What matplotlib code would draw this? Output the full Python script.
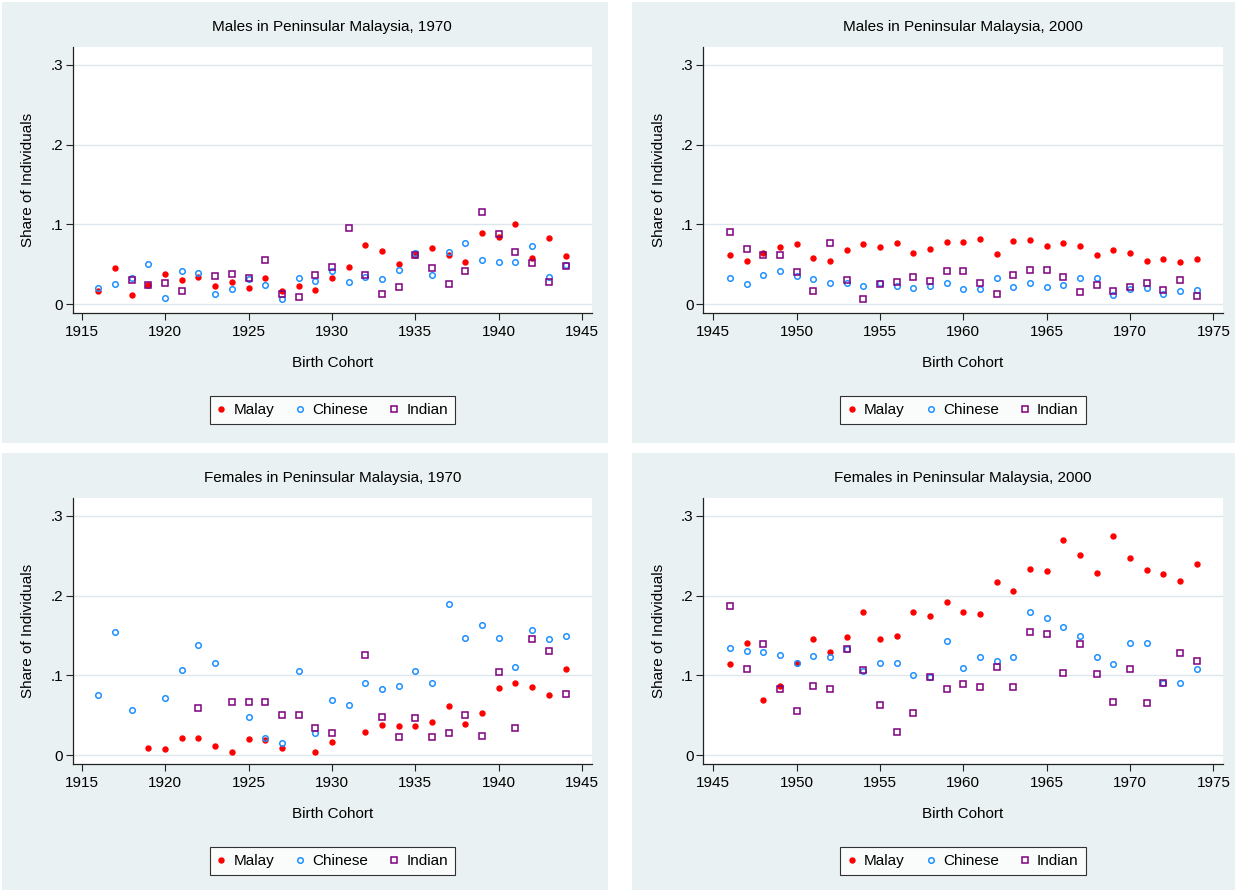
import numpy as np
import matplotlib
matplotlib.use('Agg')
import matplotlib.pyplot as plt
from matplotlib.patches import Rectangle
from matplotlib.lines import Line2D

plt.rcParams['font.family'] = ['Liberation Sans', 'DejaVu Sans']

nan = np.nan

# birth cohorts
cohort_1970 = list(range(1916, 1945))
cohort_2000 = list(range(1946, 1975))

# Males, 1970 census
male70_malay = [.016, .045, .011, .024, .038, .030, .034, .023, .028, .020, .033, .016, .023, .018, .033,
                .047, .074, .066, .050, .062, .070, .062, .0525, .089, .084, .100, .058, .083, .060]
male70_chinese = [.020, .025, .033, .050, .007, .042, .039, .013, .019, .032, .024, .006, .033, .029, .041,
                  .0275, .034, .032, .043, .064, .036, .065, .076, .055, .0525, .053, .073, .034, .049]
male70_indian = [nan, nan, .030, .024, .027, .016, nan, .035, .038, .033, .055, .013, .009, .036, .047,
                 .095, .036, .013, .022, .062, .045, .025, .041, .115, .088, .065, .052, .0275, .0475]

# Males, 2000 census
male00_malay = [.062, .054, .064, .071, .075, .058, .054, .068, .075, .071, .077, .064, .069, .0775, .078,
                .082, .0625, .079, .080, .073, .077, .073, .062, .068, .064, .054, .057, .053, .057]
male00_chinese = [.033, .025, .036, .042, .035, .031, .027, .026, .023, .027, .023, .020, .023, .026, .019,
                  .019, .033, .022, .026, .021, .024, .033, .0325, .011, .019, .020, .013, .017, .018]
male00_indian = [.090, .069, .062, .061, .040, .016, .077, .030, .006, .025, .028, .034, .029, .041, .041,
                 .026, .013, .036, .043, .043, .034, .015, .024, .017, .022, .027, .0175, .030, .0105]

# Females, 1970 census
female70_malay = [nan, nan, nan, .009, .008, .021, .022, .011, .004, .020, .019, .009, nan, .004, .016,
                  nan, .029, .038, .037, .037, .041, .062, .039, .0525, .084, .090, .085, .075, .108]
female70_chinese = [.075, .154, .057, nan, .071, .107, .138, .115, nan, .048, .022, .015, .106, .028, .069,
                    .0625, .090, .0825, .087, .106, .090, .190, .147, .163, .147, .111, .157, .146, .150]
female70_indian = [nan, nan, nan, nan, nan, nan, .059, nan, .067, .067, .067, .050, .050, .034, .028,
                   nan, .125, .048, .023, .047, .023, .0275, .050, .0245, .104, .0345, .146, .131, .077]

# Females, 2000 census
female00_malay = [.1146, .140, .069, .087, .115, .145, .129, .148, .179, .146, .150, .179, .174, .1925, .180,
                  .177, .217, .206, .233, .231, .270, .2505, .229, .2745, .247, .232, .2275, .219, .240]
female00_chinese = [.134, .130, .129, .126, .116, .124, .123, .133, .106, .116, .115, .100, .098, .143, .109,
                    .1235, .118, .123, .180, .172, .161, .150, .1225, .114, .141, .141, .091, .090, .108]
female00_indian = [.187, .108, .139, .083, .055, .087, .083, .133, .107, .0625, .029, .053, .0975, .083, .089,
                   .085, .110, .085, .154, .152, .103, .139, .102, .066, .108, .065, .091, .1285, .1185]

xticks_1970 = [1915, 1920, 1925, 1930, 1935, 1940, 1945]
xticks_2000 = [1945, 1950, 1955, 1960, 1965, 1970, 1975]
yticks = [0, .1, .2, .3]
ytick_labels = ['0', '.1', '.2', '.3']

W, H = 1237, 892
BG = '#EAF1F3'
GRID = '#DDE7EB'
RED = '#FF0000'
BLUE = '#1E90FF'
PURPLE = '#800080'


def fig_box(x0, y0, x1, y1):
    # pixel box (top-left origin) -> figure fraction rect
    return [x0 / W, 1 - y1 / H, (x1 - x0) / W, (y1 - y0) / H]


def marker_kw(kind):
    if kind == 'malay':
        return dict(marker='o', markersize=4.6, color=RED, markeredgewidth=0)
    if kind == 'chinese':
        return dict(marker='o', markersize=4.0, markerfacecolor='none',
                    markeredgecolor=BLUE, markeredgewidth=1.1)
    return dict(marker='s', markersize=3.9, markerfacecolor='none',
                markeredgecolor=PURPLE, markeredgewidth=1.1)


def draw_panel(fig, rect, title, x, malay, chinese, indian, xticks, xlim):
    ax = fig.add_axes(rect)
    ax.set_facecolor('white')
    ax.plot(x, malay, linestyle='none', label='Malay', **marker_kw('malay'))
    ax.plot(x, chinese, linestyle='none', label='Chinese', **marker_kw('chinese'))
    ax.plot(x, indian, linestyle='none', label='Indian', **marker_kw('indian'))

    ax.set_xlim(*xlim)
    ax.set_ylim(-0.0116, 0.3229)
    ax.set_xticks(xticks)
    ax.set_yticks(yticks)
    ax.set_yticklabels(ytick_labels)
    ax.tick_params(labelsize=11, length=5, width=0.8, color='#222222')
    ax.tick_params(axis='x', pad=3.5)
    ax.tick_params(axis='y', pad=2)
    ax.yaxis.grid(True, color=GRID, linewidth=1.0)
    ax.set_axisbelow(True)
    for side in ['top', 'right']:
        ax.spines[side].set_visible(False)
    for side in ['left', 'bottom']:
        ax.spines[side].set_linewidth(0.9)
        ax.spines[side].set_color('#222222')

    ax.set_title(title, fontsize=11, y=1.026)
    ax.set_xlabel('Birth Cohort', fontsize=11)
    ax.xaxis.set_label_coords(0.5, -0.160)
    ax.set_ylabel('Share of Individuals', fontsize=11)
    ax.yaxis.set_label_coords(-0.0726, 0.5)

    handles = [Line2D([], [], linestyle='none', **marker_kw(k)) for k in ['malay', 'chinese', 'indian']]
    leg = ax.legend(handles, ['Malay', 'Chinese', 'Indian'], loc='center', bbox_to_anchor=(0.5, -0.363),
                    ncol=3, fontsize=11, frameon=True, fancybox=False, edgecolor='black',
                    handlelength=0.6, handletextpad=0.5, columnspacing=1.4, borderpad=0.45)
    leg.get_frame().set_linewidth(0.8)
    return ax


fig = plt.figure(figsize=(W / 100, H / 100), dpi=100)
fig.patch.set_facecolor('white')

# grey panel backgrounds
for box in [(2, 2, 608, 443), (632, 2, 1235, 443), (2, 453, 608, 890), (632, 453, 1235, 890)]:
    r = fig_box(*box)
    fig.add_artist(Rectangle((r[0], r[1]), r[2], r[3], transform=fig.transFigure,
                             facecolor=BG, edgecolor='none', zorder=-5))

xlim_1970 = (1914.46, 1945.57)
xlim_2000 = (1944.40, 1975.56)

draw_panel(fig, fig_box(72.7, 46.7, 591.7, 313.3), 'Males in Peninsular Malaysia, 1970',
           cohort_1970, male70_malay, male70_chinese, male70_indian, xticks_1970, xlim_1970)
draw_panel(fig, fig_box(703.3, 46.7, 1222.7, 313.3), 'Males in Peninsular Malaysia, 2000',
           cohort_2000, male00_malay, male00_chinese, male00_indian, xticks_2000, xlim_2000)
draw_panel(fig, fig_box(72.7, 497.7, 591.7, 764.3), 'Females in Peninsular Malaysia, 1970',
           cohort_1970, female70_malay, female70_chinese, female70_indian, xticks_1970, xlim_1970)
draw_panel(fig, fig_box(703.3, 497.7, 1222.7, 764.3), 'Females in Peninsular Malaysia, 2000',
           cohort_2000, female00_malay, female00_chinese, female00_indian, xticks_2000, xlim_2000)

fig.savefig('out.png', dpi=100)
